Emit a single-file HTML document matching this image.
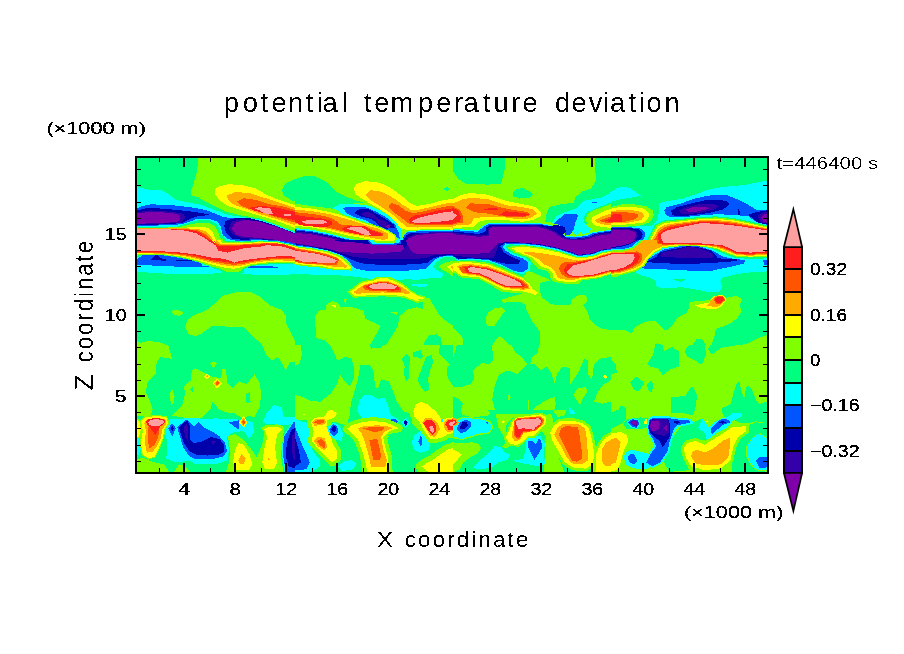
<!DOCTYPE html>
<html><head><meta charset="utf-8"><title>potential temperature deviation</title>
<style>
html,body{margin:0;padding:0;background:#fff;}
body{width:904px;height:654px;overflow:hidden;font-family:"Liberation Sans",sans-serif;}
svg{display:block;font-family:"Liberation Sans",sans-serif;}
.pk{fill:#ffa0a0}
.rd{fill:#ff1e1e}
.orr{fill:#ff5500}
.og{fill:#ffaa00}
.yl{fill:#ffff00}
.lm{fill:#7fff00}
.gr{fill:#00ff7f}
.cy{fill:#00ffff}
.bl{fill:#0055ff}
.db{fill:#0000aa}
.ind{fill:#3300aa}
.pu{fill:#7f00aa}
.tl{font-size:15.8px;fill:#000}
.thin text{fill:#000}

.big{fill:#000;}
</style></head><body>
<svg width="904" height="654" viewBox="0 0 904 654" shape-rendering="crispEdges">
<rect width="904" height="654" fill="#fff"/>
<defs>
<filter id="fb" x="-5%" y="-20%" width="110%" height="140%" color-interpolation-filters="sRGB"><feGaussianBlur stdDeviation="0.5"/><feComponentTransfer><feFuncA type="discrete" tableValues="0 0 0 0 0 1 1 1 1 1"/></feComponentTransfer></filter>
<filter id="fs" x="-5%" y="-20%" width="110%" height="140%" color-interpolation-filters="sRGB"><feComponentTransfer><feFuncA type="discrete" tableValues="0 0 0 1 1 1 1 1 1 1"/></feComponentTransfer></filter>
<filter id="ft" x="-5%" y="-30%" width="110%" height="160%" color-interpolation-filters="sRGB"><feGaussianBlur stdDeviation="0.4"/><feComponentTransfer><feFuncA type="discrete" tableValues="0 0 0 0 0 0 1 1 1 1"/></feComponentTransfer></filter>
<clipPath id="pc"><rect x="137" y="158" width="630" height="314"/></clipPath></defs>
<g clip-path="url(#pc)">
<rect x="137" y="158" width="630" height="314" class="gr"/>
<svg x="137" y="158" width="158" height="105" viewBox="0 0 904 601" preserveAspectRatio="none" overflow="hidden">
<rect width="904" height="601" class="gr"/>
<polygon class="lm" points="350,0 345,70 320,160 310,185 312,215 350,225 400,255 450,280 520,310 600,330 700,345 904,420 904,250 880,240 840,215 828,185 845,150 904,120 904,0"/>
<polygon class="cy" points="0,165 60,180 140,185 180,205 220,240 300,255 370,270 450,300 520,325 600,338 700,352 800,385 904,425 904,520 0,601"/>
<polygon class="bl" points="0,290 30,275 80,265 200,270 330,285 400,300 450,320 500,340 600,345 700,360 800,390 904,435 904,500 800,480 700,470 600,475 520,465 490,440 480,395 460,365 420,350 340,350 300,365 250,380 150,385 0,392"/>
<polygon class="db" points="0,300 60,285 150,290 250,300 340,310 420,325 340,335 300,350 260,370 200,378 0,385"/>
<polygon class="ind" points="0,310 80,300 200,308 270,320 275,345 250,370 150,375 0,380"/>
<polygon class="pu" points="0,315 100,308 200,315 240,325 245,350 230,368 100,372 0,378"/>
<polygon class="db" points="505,360 560,345 650,345 750,372 904,430 904,497 800,475 700,465 600,468 540,460 510,430 500,390"/>
<polygon class="ind" points="540,365 600,350 700,362 800,392 904,432 904,495 800,472 700,462 600,460 550,440 525,405"/>
<polygon class="pu" points="565,368 620,355 700,365 800,395 904,435 904,492 800,468 700,458 620,452 570,440 540,405"/>

<polygon class="yl" points="445,185 460,165 520,150 600,155 680,175 740,210 800,235 904,270 904,400 800,360 700,330 600,300 520,275 470,240 448,210"/>
<polygon class="og" points="515,215 560,195 640,200 720,225 800,250 904,285 904,385 800,350 700,320 620,290 550,265 520,240"/>
<polygon class="orr" points="570,250 610,230 680,240 760,265 850,280 904,300 904,370 800,340 700,305 640,290 600,275"/>
<polygon class="rd" points="640,285 700,275 780,280 850,295 904,310 904,355 800,335 720,315 670,300"/>
<polygon class="pk" points="670,290 700,282 760,287 780,320 740,322 700,300"/>
<polygon class="pk" points="840,322 880,322 885,332 840,330"/>
<polygon class="gr" points="230,392 300,370 350,355 420,358 455,375 475,410 485,445 510,470 600,482 0,482 0,398"/>
<polygon class="lm" points="240,397 300,382 350,370 415,372 445,390 462,420 475,455 505,478 600,488 0,488 0,400"/>
<polygon class="yl" points="260,400 320,395 380,392 415,405 435,430 450,465 475,488 0,488 0,402"/>
<polygon class="og" points="280,403 350,405 395,420 420,445 440,475 470,495 0,495 0,403"/>
<polygon class="orr" points="290,408 350,415 390,435 415,460 440,485 0,485 0,404"/>
<polygon class="rd" points="300,411 350,422 385,445 420,475 0,475 0,404"/>
<polygon class="pk" points="0,406 150,406 280,416 340,431 400,466 410,476 0,476"/>
</svg>

<svg x="137" y="240" width="158" height="105" viewBox="0 0 904 601" preserveAspectRatio="none" overflow="hidden">
<rect width="904" height="601" class="gr"/>
<polygon class="cy" points="0,183 100,188 220,197 350,195 490,190 610,192 680,200 830,200 904,196 904,50 0,50"/>
<polygon class="bl" points="0,108 30,88 150,88 250,103 300,114 365,120 372,150 455,152 455,156 372,154 220,152 0,142"/>
<polygon class="db" points="80,112 110,80 135,105 165,110 165,118 80,116"/>
<polygon class="db" points="225,112 345,114 345,119 225,118"/>
<polygon class="bl" points="635,150 800,152 805,158 635,158"/>
<polygon class="gr" points="0,100 30,88 150,88 250,103 300,114 360,130 420,155 485,178 490,190 610,190 615,165 650,150 700,143 800,137 904,140 904,50 0,50"/>
<polygon class="lm" points="0,90 30,84 150,85 250,99 300,110 350,125 420,148 490,170 520,185 580,185 610,160 650,146 700,138 800,131 904,135 904,50 0,50"/>
<polygon class="yl" points="0,82 150,82 250,94 300,105 350,118 420,138 500,158 550,165 600,155 650,140 700,132 800,124 904,128 904,50 0,50"/>
<polygon class="og" points="0,76 150,78 250,89 300,98 350,110 420,128 500,145 550,152 600,146 650,134 700,125 800,116 904,120 904,50 0,50"/>
<polygon class="orr" points="0,72 150,75 250,84 300,92 350,103 420,120 500,135 550,142 600,138 650,127 700,118 800,108 904,112 904,50 0,50"/>
<polygon class="rd" points="0,68 150,71 250,79 300,85 350,95 420,112 500,125 550,132 600,128 650,120 700,112 800,100 904,104 904,50 0,50"/>
<polygon class="yl" points="400,0 520,0 450,30"/>
<polygon class="bl" points="500,0 904,0 904,70 465,70 450,30"/>
<polygon class="pu" points="790,0 904,0 904,18"/>
<polygon class="cy" points="505,0 600,5 700,1 800,5 904,28 904,70 465,70 450,30"/>
<polygon class="gr" points="495,0 510,7 600,9 700,4 800,8 904,31 904,70 465,70 450,30"/>
<polygon class="lm" points="485,0 505,10 600,13 700,8 800,11 904,34 904,70 465,70 450,30"/>
<polygon class="yl" points="470,0 490,15 520,19 600,19 700,12 800,14 904,37 904,70 465,70 450,30"/>
<polygon class="og" points="455,0 475,20 500,25 600,24 700,17 800,18 904,41 904,70 465,70 450,30"/>
<polygon class="orr" points="440,0 465,25 490,30 560,28 700,21 740,17 830,21 904,44 904,70 465,70 450,30"/>
<polygon class="rd" points="400,0 425,0 455,28 480,36 560,33 700,26 740,20 830,25 904,48 904,70 465,70 450,30"/>
<polygon class="pk" points="0,0 400,0 450,30 465,62 520,72 560,60 620,45 700,40 740,30 820,35 870,48 904,60 904,95 820,92 740,100 650,110 600,118 585,120 560,130 500,108 420,100 350,85 250,72 150,65 0,62"/>
<polygon class="lm" points="195,405 230,400 260,410 262,425 240,435 210,428"/>
<polygon class="lm" points="275,500 290,455 330,430 400,400 450,360 490,320 560,300 650,298 700,320 760,375 830,400 850,430 855,480 904,580 904,601 720,601 660,550 610,500 430,492 370,535 340,548 300,545"/>
<polygon class="lm" points="0,575 20,590 60,578 130,585 170,601 0,601"/>
</svg>
<svg x="137" y="345" width="158" height="128" viewBox="0 0 807 654" preserveAspectRatio="none" overflow="hidden">
<rect width="807" height="656" class="gr"/>
<polygon class="lm" points="0,0 160,0 178,70 120,62 100,90 95,150 55,185 45,240 65,285 80,330 70,360 0,365"/>
<polygon class="lm" points="640,0 807,0 807,85 780,90 760,130 745,100 720,60 690,80 660,50"/>
<polygon class="lm" points="180,360 230,310 245,250 240,210 275,180 280,130 300,118 340,140 380,160 430,170 435,120 455,125 460,190 490,220 520,185 560,200 600,150 625,190 635,250 625,320 600,370 570,360 540,375 500,350 460,345 420,330 385,290 375,330 340,365 290,395 265,375 220,368"/>
<polygon class="lm" points="165,250 180,225 192,260 190,295 175,305"/>
<polygon class="gr" points="270,225 285,215 285,240"/>
<polygon class="gr" points="555,250 575,240 580,290 560,300"/>
<polygon class="lm" points="375,95 392,82 408,95 390,118"/>
<polygon class="yl" points="343,160 358,145 375,160 358,178"/>
<polygon class="og" points="352,160 358,153 366,160 358,168"/>
<polygon class="og" points="390,195 410,175 430,195 410,218" stroke="#ffff00" stroke-width="6" stroke-linejoin="round"/>
<polygon class="orr" points="400,195 410,185 420,195 410,207"/>
<polygon class="cy" points="140,440 165,380 300,372 340,380 400,375 500,380 560,385 590,395 600,440 580,470 540,440 480,450 460,470 470,540 460,590 400,610 300,610 270,590 200,600 150,580 155,500"/>
<polygon class="cy" points="640,400 660,350 700,305 740,320 750,370 807,368 807,400 760,410 700,405"/>
<polygon class="cy" points="0,470 15,480 25,520 10,560 0,560"/>
<polygon class="bl" points="0,610 10,615 12,640 0,640" stroke="#00ffff" stroke-width="8" stroke-linejoin="round"/>
<polygon class="bl" points="160,425 180,400 198,425 180,470"/>
<polygon class="db" points="172,425 180,412 188,425 180,440"/>
<polygon class="bl" points="205,420 255,380 275,400 290,415 315,395 340,420 380,440 420,465 450,500 460,540 440,570 380,585 300,585 265,565 235,520 220,470"/>
<polygon class="db" points="215,420 255,385 270,410 270,480 290,500 330,495 380,470 420,480 445,510 445,545 420,560 360,565 300,560 265,540 240,500 225,460"/>
<polygon class="ind" points="240,420 255,400 262,430 258,490 245,470"/>
<polygon class="ind" points="375,490 405,490 390,510"/>
<polygon class="bl" points="470,395 520,385 520,430 500,420"/>
<polygon class="cy" points="555,455 572,440 588,458 570,475"/>
<polygon class="og" points="525,395 545,365 560,395 545,418" stroke="#ffff00" stroke-width="6" stroke-linejoin="round"/>
<polygon class="orr" points="535,395 545,380 553,395 545,408"/>
<polygon class="lm" points="0,585 30,575 60,590 90,600 140,610 165,648 0,648"/>
<polygon class="lm" points="190,648 215,610 240,615 275,648"/>
<polygon class="lm" points="455,648 470,600 475,540 465,465 500,455 545,485 585,535 612,572 640,505 650,445 632,420 660,410 720,405 752,420 745,480 735,560 748,648"/>
<polygon class="yl" points="490,600 500,540 520,500 545,510 575,560 590,610 570,640 510,640"/>
<polygon class="og" points="518,590 535,555 555,580 545,610 525,608"/>
<polygon class="yl" points="640,600 650,530 665,470 650,430 670,418 720,418 740,430 715,460 705,520 715,600 700,635 655,635"/>
<polygon class="og" points="668,585 675,575 680,590"/>
<polygon class="bl" points="750,470 775,430 800,395 830,395 830,670 760,670 745,560" stroke="#00ffff" stroke-width="10" stroke-linejoin="round"/>
<polygon class="bl" points="750,470 775,430 800,395 807,395 807,648 760,648 745,560"/>
<polygon class="db" points="765,500 785,440 807,420 807,630 775,620 760,570"/>
<polygon class="ind" points="790,470 807,440 807,590 795,570"/>
<polygon class="yl" points="-20,375 15,385 25,430 15,470 -20,480" stroke="#7fff00" stroke-width="8" stroke-linejoin="round"/>
<polygon class="yl" points="20,390 40,370 100,362 150,370 160,400 140,430 130,480 110,530 90,570 60,580 30,560 20,500 30,440" stroke="#7fff00" stroke-width="12" stroke-linejoin="round"/>
<polygon class="yl" points="20,390 40,370 100,362 150,370 160,400 140,430 130,480 110,530 90,570 60,580 30,560 20,500 30,440"/>
<polygon class="og" points="38,400 50,380 100,372 145,380 150,400 130,430 120,480 100,520 80,545 50,550 40,500 45,440"/>
<polygon class="orr" points="55,420 100,420 115,440 105,480 90,510 65,530 55,490"/>
<polygon class="rd" points="45,395 60,378 100,372 140,380 145,398 120,415 105,440 95,460 80,440 60,415"/>
<polygon class="pk" points="55,395 70,382 100,378 135,385 140,396 115,412 80,415 65,408"/>
</svg>

<svg x="295" y="158" width="158" height="105" viewBox="0 0 904 601" preserveAspectRatio="none" overflow="hidden">
<rect width="904" height="603" class="lm"/>
<polygon class="gr" points="0,120 50,105 110,105 160,125 200,155 240,195 300,225 340,240 390,255 240,270 215,290 100,275 0,262"/>
<polygon class="gr" points="850,178 870,165 888,178 870,190"/>
<polygon class="cy" points="0,400 100,412 200,432 300,458 400,480 500,495 580,495 610,480 620,440 640,420 700,415 800,410 904,412 904,480 0,480"/>
<polygon class="bl" points="0,408 100,420 200,440 300,465 400,485 500,498 590,495 615,470 625,440 645,425 700,420 800,415 904,417 904,480 0,480"/>
<polygon class="db" points="0,414 100,426 200,446 300,470 400,490 500,502 600,500 625,460 640,440 660,430 904,422 904,480 0,480"/>
<polygon class="pu" points="-20,422 100,434 200,454 260,471 260,490 -20,490" stroke="#3300aa" stroke-width="8" stroke-linejoin="round"/>
<polygon class="pu" points="640,490 645,457 700,437 800,428 924,428 924,490" stroke="#3300aa" stroke-width="8" stroke-linejoin="round"/>
<polygon class="cy" points="220,285 260,262 340,262 420,272 490,300 550,340 600,385 615,430 610,470 590,490 570,450 480,410 400,365 330,345 270,320"/>
<polygon class="bl" points="275,290 300,278 400,280 470,310 530,345 575,385 595,430 600,465 560,440 480,400 400,355 330,335 295,315"/>
<polygon class="db" points="340,315 360,295 420,292 460,315 520,350 565,380 570,400 520,405 480,385 440,350 380,335"/>
<polygon class="ind" points="375,318 410,308 450,320 470,345 510,360 550,385 540,402 500,395 460,350 400,335"/>
<polygon class="pu" points="515,395 530,380 545,392 535,400"/>
<polygon class="yl" points="-20,280 100,290 200,310 260,325 330,350 400,375 470,395 530,420 570,445 575,465 540,478 480,475 400,462 300,443 200,418 100,398 -20,388" stroke="#7fff00" stroke-width="14" stroke-linejoin="round"/>
<polygon class="yl" points="0,280 100,290 200,310 260,325 330,350 400,375 470,395 530,420 570,445 575,465 540,478 480,475 400,462 300,443 200,418 100,398 0,388"/>
<polygon class="og" points="0,295 100,305 200,322 280,345 350,365 420,390 480,405 530,430 535,465 500,468 400,450 300,432 200,408 100,392 0,378"/>
<polygon class="orr" points="0,310 100,320 180,335 220,350 260,380 300,385 400,390 440,410 500,430 505,445 440,445 380,440 300,425 200,400 100,388 0,370"/>
<polygon class="rd" points="0,325 60,335 150,345 210,360 215,380 180,395 100,392 30,385 0,365"/>
<polygon class="pk" points="35,362 80,355 170,358 185,368 160,378 60,377"/>
<polygon class="rd" points="265,405 300,390 400,392 440,415 500,435 490,445 440,445 380,440 300,425"/>
<polygon class="pk" points="290,405 320,396 390,398 420,420 435,438 400,440 350,420"/>
<polygon class="yl" points="335,175 350,150 400,133 470,138 530,160 580,195 620,225 660,260 700,275 780,260 850,240 904,235 904,410 800,405 700,410 640,412 600,400 580,370 540,330 480,290 420,255 370,225 345,205"/>
<polygon class="og" points="405,210 430,185 480,188 530,210 580,240 620,270 660,295 700,298 780,280 850,262 904,255 904,398 800,395 700,398 640,395 610,370 580,340 540,310 480,270 430,240"/>
<polygon class="orr" points="535,280 550,258 590,270 630,300 670,315 720,310 800,290 860,278 904,275 904,385 800,385 700,385 650,375 620,350 570,315"/>
<polygon class="rd" points="650,350 680,330 740,320 820,300 904,288 904,378 800,375 700,378 660,370"/>
<polygon class="pk" points="665,365 700,345 780,325 860,310 904,305 904,355 820,365 740,372 690,372"/>
</svg>

<svg x="295" y="240" width="158" height="105" viewBox="0 0 904 601" preserveAspectRatio="none" overflow="hidden">
<rect width="904" height="603" class="gr"/>
<polygon class="cy" points="0,0 904,0 904,95 850,100 810,125 790,155 820,178 850,195 840,215 800,215 700,228 650,225 580,228 540,210 470,210 440,225 380,215 300,205 200,200 100,198 0,195"/>
<polygon class="bl" points="0,0 904,0 904,90 840,95 800,110 770,140 745,165 700,170 600,180 500,180 400,175 350,165 330,150 300,120 260,100 200,75 150,65 0,30"/>
<polygon class="db" points="0,0 904,0 904,85 830,92 790,105 760,130 700,138 600,142 500,142 400,138 350,125 300,100 250,80 200,62 100,40 0,25"/>
<polygon class="ind" points="0,0 904,0 904,80 800,85 740,105 640,108 500,110 400,105 330,95 280,80 200,55 100,38 0,22"/>
<polygon class="db" points="215,0 635,0 645,30 625,50 615,30 560,25 430,25 350,15 250,8"/>
<polygon class="pu" points="0,18 100,35 200,52 260,70 340,72 440,78 520,72 600,70 625,50 615,30 560,25 430,25 350,15 250,8 215,0 0,0"/>
<polygon class="pu" points="635,0 904,0 904,78 800,80 700,80 670,70 645,30"/>
<polygon class="cy" points="400,-20 610,-20 600,20 560,25 440,25" stroke="#0055ff" stroke-width="8" stroke-linejoin="round"/>
<polygon class="yl" points="440,-20 580,-20 570,12 460,12" stroke="#7fff00" stroke-width="8" stroke-linejoin="round"/>
<polygon class="lm" points="-20,35 100,48 190,65 260,90 300,120 328,155 318,175 230,172 150,158 50,150 -20,142" stroke="#00ffff" stroke-width="10" stroke-linejoin="round"/>
<polygon class="lm" points="0,35 100,48 190,65 260,90 300,120 328,155 318,175 230,172 150,158 50,150 0,142"/>
<polygon class="yl" points="0,40 100,55 180,70 250,95 290,125 320,155 310,168 230,165 150,150 50,142 0,135"/>
<polygon class="og" points="0,45 100,62 180,78 240,100 270,125 300,150 290,158 230,155 150,142 50,136 0,125"/>
<polygon class="rd" points="-20,50 60,62 140,75 210,95 250,112 235,138 150,136 50,130 -20,118" stroke="#ff5500" stroke-width="8" stroke-linejoin="round"/>
<polygon class="pk" points="0,60 50,68 130,80 200,100 240,115 225,132 150,130 50,125 0,112"/>
<polygon class="lm" points="300,295 330,275 370,240 440,225 470,210 540,210 580,230 620,250 660,285 700,310 750,325 760,345 700,360 660,345 620,330 500,322 400,328 330,330"/>
<polygon class="yl" points="315,295 340,280 380,245 450,232 480,220 530,220 580,240 620,262 660,295 700,318 750,335 750,350 700,352 660,335 620,320 500,312 400,318 335,318"/>
<polygon class="og" points="335,298 360,280 390,258 450,242 490,232 530,235 590,258 630,280 660,300 650,308 600,305 500,300 400,305 350,308"/>
<polygon class="orr" points="385,270 400,258 450,248 490,238 530,240 580,258 605,275 605,300 560,298 500,292 430,290 400,285"/>
<polygon class="rd" points="400,270 420,258 490,242 540,250 590,265 598,285 560,290 500,285 430,283"/>
<polygon class="pk" points="418,268 440,255 500,245 550,252 585,268 570,280 500,278 440,278"/>
<polygon class="cy" points="665,250 750,252 765,262 720,270 670,262"/>
<polygon class="lm" points="115,440 135,405 175,398 180,370 215,350 245,360 260,382 330,385 395,405 400,450 490,490 470,530 430,601 200,601 170,575 120,560"/>
<polygon class="yl" points="200,372 235,375 232,388"/>
<polygon class="lm" points="280,335 295,340 290,365 280,350"/>
<polygon class="lm" points="520,601 560,540 590,490 595,440 640,400 700,385 730,395 735,360 700,340 770,330 790,370 820,420 860,460 904,490 904,601 840,601 835,560 810,540 770,545 745,575 735,601"/>
<polygon class="lm" points="545,412 590,412 580,428"/>
<polygon class="lm" points="820,155 850,130 904,120 904,210 870,185"/>
<polygon class="yl" points="870,150 904,135 904,185"/>
<polygon class="og" points="890,150 904,145 904,170"/>
</svg>

<svg x="295" y="345" width="158" height="128" viewBox="0 0 807 654" preserveAspectRatio="none" overflow="hidden">
<rect width="807" height="656" class="lm"/>
<polygon class="gr" points="30,0 180,0 200,40 215,80 260,60 290,70 300,110 300,170 280,210 250,180 230,150 215,200 180,250 130,290 80,285 40,265 0,255 0,110 25,90 35,50"/>
<polygon class="gr" points="380,0 450,0 440,15 390,18"/>
<polygon class="gr" points="545,70 570,45 590,70 580,130 585,170 570,185 555,150 560,110"/>
<polygon class="gr" points="600,40 640,25 655,60 640,70 620,60 605,60"/>
<polygon class="gr" points="625,180 640,140 655,100 670,60 700,50 705,90 690,130 680,170 685,230 665,240 640,210"/>
<polygon class="gr" points="740,0 807,0 807,210 780,170 775,120 790,100 760,70 735,40"/>
<polygon class="lm" points="718,130 728,120 735,135 725,145"/>
<polygon class="gr" points="335,100 380,100 400,130 410,215 425,222 440,175 480,185 498,230 520,290 555,340 600,355 595,400 640,440 680,495 720,490 760,455 807,470 807,525 760,530 700,565 650,610 640,648 0,648 0,385 100,385 180,385 230,400 262,415 280,360 285,300 300,250 320,180"/>
<polygon class="cy" points="0,378 40,392 70,400 80,440 70,480 90,540 130,590 130,620 80,648 0,648"/>
<polygon class="bl" points="0,420 20,470 40,520 60,560 75,600 60,635 0,640"/>
<polygon class="db" points="0,470 20,540 30,600 0,620"/>
<polygon class="yl" points="20,355 45,345 70,358 40,365" stroke="#7fff00" stroke-width="14" stroke-linejoin="round"/>
<polygon class="yl" points="80,390 100,372 150,365 165,340 185,330 215,350 200,370 165,385 160,420 180,450 190,500 215,540 215,580 190,600 150,560 110,520 85,490 95,440" stroke="#7fff00" stroke-width="40" stroke-linejoin="round"/>
<polygon class="yl" points="80,390 100,372 150,365 165,340 185,330 215,350 200,370 165,385 160,420 180,450 190,500 215,540 215,580 190,600 150,560 110,520 85,490 95,440"/>
<polygon class="og" points="85,395 105,378 150,378 160,395 140,410 100,412"/>
<polygon class="og" points="95,490 115,468 150,475 165,520 150,540 120,520"/>
<polygon class="orr" points="95,395 115,385 150,385 150,395 120,405"/>
<polygon class="orr" points="112,490 135,480 155,500 150,530 125,510"/>
<polygon class="cy" points="165,420 195,395 225,410 245,450 240,490 200,480 175,460"/>
<polygon class="bl" points="175,430 195,405 215,415 222,445 200,465 180,450"/>
<polygon class="db" points="185,430 200,410 212,425 205,445 190,440"/>
<polygon class="cy" points="220,620 250,595 290,588 312,605 300,635 240,645"/>
<polygon class="cy" points="318,340 330,280 350,258 390,255 420,275 460,270 475,310 490,360 520,375 540,390 500,395 420,385 340,370"/>
<polygon class="bl" points="465,395 480,382 510,378 528,392 510,400"/>
<polygon class="bl" points="548,398 565,375 582,398 565,420" stroke="#00ffff" stroke-width="8" stroke-linejoin="round"/>
<polygon class="db" points="554,398 565,382 576,398 565,414"/>
<polygon class="yl" points="265,428 290,410 340,395 400,388 460,395 500,410 530,425 480,440 450,470 460,520 475,570 480,680 370,680 350,560 320,480 290,450" stroke="#7fff00" stroke-width="40" stroke-linejoin="round"/>
<polygon class="yl" points="265,428 290,410 340,395 400,388 460,395 500,410 530,425 480,440 450,470 460,520 475,570 480,648 370,648 350,560 320,480 290,450"/>
<polygon class="og" points="320,425 350,415 420,410 470,415 500,425 460,440 440,470 450,530 470,590 460,625 390,625 375,560 355,490 340,450"/>
<polygon class="orr" points="345,425 400,418 460,422 440,440 400,445"/>
<polygon class="orr" points="380,485 420,480 430,520 440,570 430,590 400,585 390,540"/>
<polygon class="gr" points="470,460 500,450 540,455 520,475 490,472"/>
<polygon class="yl" points="605,340 615,305 645,290 680,305 720,340 750,380 775,375 840,370 840,450 780,455 760,470 720,480 690,480 660,440 640,400 610,365" stroke="#7fff00" stroke-width="40" stroke-linejoin="round"/>
<polygon class="yl" points="605,340 615,305 645,290 680,305 720,340 750,380 775,375 807,370 807,450 780,455 760,470 720,480 690,480 660,440 640,400 610,365"/>
<polygon class="og" points="650,395 665,375 700,375 730,400 740,430 715,470 690,465 670,430"/>
<polygon class="rd" points="655,400 670,385 700,385 720,410 722,440 705,460 685,445 668,420"/>
<polygon class="pk" points="685,420 700,410 712,430 705,450 692,440"/>
<polygon class="og" points="760,400 775,380 807,375 807,440 780,445 765,430"/>
<polygon class="rd" points="768,405 780,385 807,380 807,435 785,435"/>
<polygon class="pk" points="785,400 807,390 807,415 790,412"/>
<polygon class="cy" points="745,385 752,375 758,390 750,400"/>
<polygon class="cy" points="595,500 610,460 640,440 665,470 690,510 680,540 640,550 610,535"/>
<polygon class="bl" points="630,495 645,455 650,510 640,515"/>
<polygon class="yl" points="645,620 700,590 740,560 780,535 850,510 850,700 700,700" stroke="#7fff00" stroke-width="56" stroke-linejoin="round"/>
<polygon class="yl" points="645,620 700,590 740,560 780,535 807,525 807,648 680,648"/>
</svg>

<svg x="453" y="158" width="158" height="105" viewBox="0 0 904 601" preserveAspectRatio="none" overflow="hidden">
<rect width="904" height="603" class="lm"/>
<polygon class="gr" points="0,0 295,0 295,70 275,148 200,152 80,150 30,120 0,75"/>
<polygon class="gr" points="340,200 360,178 400,172 440,190 458,212 430,230 380,232 345,218"/>
<polygon class="gr" points="810,0 818,130 790,175 740,190 700,225 690,255 620,265 550,280 535,320 528,365 600,375 904,375 904,0"/>
<polygon class="cy" points="904,195 860,225 800,235 750,245 700,290 640,310 590,335 565,370 640,380 700,440 780,430 790,405 755,380 745,345 765,310 800,295 850,275 904,255"/>
<polygon class="bl" points="610,345 640,320 700,318 715,330 700,370 690,410 670,440 640,445 635,400 600,380 580,375"/>
<polygon class="bl" points="795,250 825,250 825,256 795,256"/>
<polygon class="lm" points="755,360 770,320 800,300 860,280 904,262 904,410 850,405 790,395"/>
<polygon class="yl" points="790,360 800,335 840,315 904,290 904,400 850,395 810,385"/>
<polygon class="og" points="810,360 830,345 870,328 904,318 904,385 860,380 830,372"/>
<polygon class="orr" points="835,360 870,345 904,335 904,375 870,370"/>
<polygon class="rd" points="870,358 904,345 904,368"/>
<polygon class="cy" points="0,405 140,415 175,385 200,372 500,374 560,385 620,420 640,445 700,450 770,440 800,425 904,410 904,480 0,480"/>
<polygon class="bl" points="0,412 140,422 180,392 205,378 500,378 560,390 615,425 640,450 700,455 770,445 800,430 904,415 904,480 0,480"/>
<polygon class="db" points="0,420 150,435 185,420 190,398 210,385 500,385 540,388 600,385 640,395 645,420 630,440 650,460 700,462 780,452 810,435 904,420 904,480 0,480"/>
<polygon class="pu" points="-20,430 150,447 200,442 207,402 227,392 480,390 530,402 580,422 620,452 680,470 760,462 820,442 924,428 924,530 -20,548" stroke="#3300aa" stroke-width="8" stroke-linejoin="round"/>
<polygon class="lm" points="712,440 728,425 745,440"/>
<polygon class="yl" points="0,235 50,210 100,200 200,210 300,245 400,265 470,280 505,310 500,335 460,355 400,365 300,355 200,352 150,365 120,395 0,400"/>
<polygon class="og" points="0,260 60,235 100,228 200,235 300,270 400,282 460,295 480,320 440,345 380,352 300,340 200,335 120,345 100,380 0,388"/>
<polygon class="orr" points="70,285 100,260 200,262 260,280 330,295 430,310 445,325 400,340 300,335 250,328 200,318 120,310"/>
<polygon class="orr" points="0,275 40,300 60,340 55,370 0,378"/>
<polygon class="rd" points="160,290 250,288 265,300 200,300"/>
<polygon class="rd" points="265,325 300,305 400,315 440,322 400,335 300,332"/>
<polygon class="rd" points="0,285 30,300 45,340 40,365 0,372"/>
<polygon class="pk" points="0,310 22,330 0,350"/>
</svg>

<svg x="453" y="240" width="158" height="105" viewBox="0 0 904 601" preserveAspectRatio="none" overflow="hidden">
<rect width="904" height="603" class="gr"/>
<polygon class="cy" points="0,0 904,0 904,60 850,70 800,90 720,100 680,85 600,60 500,40 400,28 320,25 300,40 320,65 360,85 410,100 445,130 440,170 400,195 350,185 280,150 200,120 100,112 30,118 0,100"/>
<polygon class="bl" points="0,0 904,0 904,55 850,62 800,82 720,92 680,78 600,52 500,32 400,22 300,20 285,40 300,60 340,85 400,105 432,130 428,165 400,185 350,178 285,145 200,114 100,108 30,112 0,95"/>
<polygon class="db" points="0,0 904,0 904,52 850,58 800,78 720,88 680,74 600,48 500,28 400,18 300,15 270,35 290,70 340,100 385,118 375,140 300,135 250,125 200,110 100,105 30,108 0,92"/>
<polygon class="ind" points="0,0 904,0 904,50 850,55 800,75 720,85 680,70 600,45 500,25 400,15 300,12 262,25 245,75 235,100 200,105 100,100 0,88"/>
<polygon class="pu" points="0,0 904,0 904,50 850,55 800,75 720,85 680,70 600,45 500,25 400,15 300,12 260,20 235,40 200,75 100,80 0,78"/>
<polygon class="lm" points="430,175 560,230 500,245 495,290 510,330 560,365 600,375 670,372 680,340 720,315 760,312 770,345 745,375 770,410 780,450 820,490 860,510 904,515 904,601 500,601 495,520 450,460 420,400 415,370 380,355 320,355 285,362 280,340 330,325 400,305 440,315 480,320 490,295 465,275 440,240 400,210"/>
<polygon class="lm" points="185,450 200,415 240,390 280,385 298,405 280,430 255,465 235,495 195,495"/>
<polygon class="lm" points="0,500 30,530 60,565 60,601 0,601"/>
<polygon class="lm" points="225,601 245,570 265,550 290,565 325,601"/>
<polygon class="lm" points="0,125 30,118 100,120 200,130 280,160 350,190 400,210 440,240 465,275 490,295 480,320 440,315 400,305 280,298 250,280 200,250 150,225 50,215 0,185"/>
<polygon class="yl" points="0,135 40,128 100,128 200,140 280,170 350,200 400,220 435,250 455,280 485,300 470,315 440,305 400,295 290,285 250,265 200,240 150,215 50,205 0,170"/>
<polygon class="og" points="20,150 50,140 100,138 200,150 280,180 350,208 400,228 430,255 440,280 400,285 300,275 250,255 200,230 150,205 60,195"/>
<polygon class="orr" points="35,155 60,150 100,145 200,158 280,188 350,215 395,232 425,258 430,275 400,278 300,270 250,250 200,222 150,200 70,190 50,185"/>
<polygon class="rd" points="65,155 100,150 200,163 280,192 350,220 390,237 415,262 400,272 300,268 250,245 200,218 150,196 75,188"/>
<polygon class="pk" points="85,160 110,155 200,170 280,198 350,225 385,245 395,265 300,262 250,240 200,212 150,190 95,185"/>
<polygon class="lm" points="310,45 340,35 400,30 500,42 600,62 680,88 720,100 800,92 850,72 904,62 904,195 850,215 800,225 740,230 720,250 650,252 600,245 560,230 555,200 530,175 490,165 450,130 440,105 400,90 350,72"/>
<polygon class="yl" points="335,45 400,38 500,50 600,70 680,95 720,106 800,97 850,78 904,66 904,190 850,208 800,218 740,222 700,238 650,240 600,232 575,215 570,190 545,165 500,150 470,120 450,100 400,80 360,65"/>
<polygon class="og" points="400,72 440,68 500,75 600,92 680,112 720,118 800,105 850,85 904,72 904,185 850,200 800,212 740,216 700,226 650,228 600,218 585,185 560,155 520,140 490,110 450,90"/>
<polygon class="orr" points="605,160 625,130 680,125 720,122 800,108 850,90 904,76 904,180 850,196 800,208 740,212 700,218 650,215 620,195"/>
<polygon class="rd" points="635,170 655,140 700,132 800,112 850,94 904,80 904,176 850,192 800,204 740,208 700,212 660,205 640,190"/>
<polygon class="pk" points="650,180 690,145 750,130 830,105 904,84 904,172 850,186 800,200 740,204 700,208 665,198"/>
</svg>

<svg x="453" y="345" width="158" height="128" viewBox="0 0 807 654" preserveAspectRatio="none" overflow="hidden">
<rect width="807" height="656" class="gr"/>
<polygon class="lm" points="200,0 300,0 320,40 350,60 380,100 330,150 280,130 235,150 210,220 200,280 215,330 190,350 180,340 150,365 50,365 40,330 50,300 20,270 0,265 0,215 40,215 90,200 110,170 100,130 150,90 180,100 205,80"/>
<polygon class="lm" points="0,0 20,0 0,70"/>
<polygon class="lm" points="440,0 807,0 807,60 750,70 720,100 710,180 690,150 690,80 670,70 640,140 600,200 600,120 560,110 530,150 520,200 500,140 480,110 450,130 420,100 395,95 400,70 430,40"/>
<polygon class="lm" points="400,340 430,310 480,280 520,265 525,300 515,340 500,365 440,360"/>
<polygon class="lm" points="720,290 740,240 770,200 807,180 807,290 760,300"/>
<polygon class="lm" points="615,250 640,220 680,215 685,240 665,270 650,305 625,275"/>
<polygon class="lm" points="278,265 288,250 295,270 285,285"/>
<polygon class="lm" points="382,285 388,280 390,330 384,335"/>
<polygon class="yl" points="765,162 778,150 790,162 778,175"/>
<polygon class="cy" points="585,350 595,315 610,340 630,355"/>
</svg>

<svg x="453" y="410" width="158" height="63" viewBox="0 0 904 360" preserveAspectRatio="none" overflow="hidden">
<rect width="904" height="362" class="gr"/>
<polygon class="lm" points="45,0 200,0 215,15 200,35 100,40 50,25"/>
<polygon class="lm" points="0,185 40,190 110,185 150,195 160,220 140,250 100,270 60,300 40,340 0,355"/>
<polygon class="yl" points="0,225 30,240 50,255 20,290 0,310"/>
<polygon class="lm" points="520,30 560,20 575,60 560,100 550,140 570,200 600,260 620,310 640,360 520,360 525,250 530,150 500,110 530,80"/>
<polygon class="lm" points="245,25 330,20 420,25 345,40 300,90 310,150 340,190 310,220 280,210 300,190 290,150 260,100"/>
<polygon class="lm" points="570,0 650,0 640,30 600,40"/>
<polygon class="cy" points="660,0 690,0 700,20 670,25"/>
<polygon class="cy" points="-20,100 20,60 60,45 120,50 175,55 210,70 225,100 200,130 150,135 100,150 50,165 -20,150" stroke="#7fff00" stroke-width="14" stroke-linejoin="round"/>
<polygon class="cy" points="0,100 20,60 60,45 120,50 175,55 210,70 225,100 200,130 150,135 100,150 50,165 0,150"/>
<polygon class="bl" points="22,110 35,75 70,55 100,65 105,95 80,120 45,135"/>
<polygon class="db" points="35,105 55,70 80,68 85,90 65,110"/>
<polygon class="bl" points="188,68 200,68 198,78"/>
<polygon class="rd" points="-20,50 15,55 25,70 10,85 -20,92" stroke="#ffaa00" stroke-width="14" stroke-linejoin="round"/>
<polygon class="pk" points="-20,55 12,60 18,70 8,82 -20,86" stroke="#ff1e1e" stroke-width="6" stroke-linejoin="round"/>
<polygon class="yl" points="270,68 288,50 305,68 288,85" stroke="#7fff00" stroke-width="10" stroke-linejoin="round"/>
<polygon class="cy" points="115,330 150,290 200,250 240,205 275,215 300,245 330,255 310,285 260,300 220,330 150,340"/>
<polygon class="cy" points="340,290 400,280 415,230 420,170 460,145 500,150 525,190 520,260 530,310 480,320 400,305"/>
<polygon class="bl" points="430,180 455,178 475,195 490,165 505,175 510,215 490,250 465,285 445,245 430,210"/>
<polygon class="yl" points="300,160 320,120 340,70 360,45 420,35 500,25 530,40 535,70 510,100 480,130 460,150 430,150 400,180 370,200 330,195" stroke="#7fff00" stroke-width="20" stroke-linejoin="round"/>
<polygon class="yl" points="300,160 320,120 340,70 360,45 420,35 500,25 530,40 535,70 510,100 480,130 460,150 430,150 400,180 370,200 330,195"/>
<polygon class="og" points="335,150 345,100 350,60 380,45 500,35 520,50 520,75 500,95 470,120 440,125 400,135 385,170 355,180"/>
<polygon class="rd" points="350,140 352,70 370,50 500,42 515,60 500,90 470,115 440,120 400,125 380,160 365,160" stroke="#ff5500" stroke-width="6" stroke-linejoin="round"/>
<polygon class="pk" points="360,80 365,58 400,52 490,48 508,62 495,85 470,100 465,115 440,108 400,105 375,110"/>
<polygon class="yl" points="555,130 575,90 610,65 680,60 740,75 775,100 790,150 800,200 810,260 800,310 760,335 690,330 640,300 600,230 570,180" stroke="#7fff00" stroke-width="30" stroke-linejoin="round"/>
<polygon class="yl" points="555,130 575,90 610,65 680,60 740,75 775,100 790,150 800,200 810,260 800,310 760,335 690,330 640,300 600,230 570,180"/>
<polygon class="og" points="580,140 600,100 630,78 720,82 755,105 765,160 770,230 770,290 740,310 680,305 650,270 620,210 595,170"/>
<polygon class="orr" points="605,140 620,105 650,90 715,100 725,150 735,220 740,280 710,295 680,290 655,240 630,190"/>
<polygon class="yl" points="815,390 820,250 840,200 870,160 930,130 930,390" stroke="#7fff00" stroke-width="30" stroke-linejoin="round"/>
<polygon class="yl" points="815,360 820,250 840,200 870,160 904,140 904,360"/>
<polygon class="og" points="850,290 855,220 875,185 904,170 904,320 870,320"/>
</svg>

<svg x="611" y="158" width="158" height="105" viewBox="0 0 904 601" preserveAspectRatio="none" overflow="hidden">
<rect width="904" height="603" class="gr"/>
<polygon class="cy" points="0,195 30,175 70,165 110,172 140,195 170,215 130,225 60,235 0,250"/>
<polygon class="cy" points="275,265 300,250 400,235 480,210 560,180 650,165 760,155 860,135 904,130 904,400 800,380 700,360 600,350 500,355 400,365 330,368 280,375 250,400 225,440 200,480 150,500 0,520 0,395 150,392 200,392 240,385 270,350"/>
<polygon class="bl" points="305,300 320,280 400,260 480,232 560,215 660,212 720,235 780,265 830,295 904,300 904,385 820,360 790,335 700,325 600,322 500,330 400,340 330,335 310,320"/>
<polygon class="db" points="345,300 380,280 450,262 540,242 620,238 670,250 675,270 640,295 560,315 480,325 400,335 350,328"/>
<polygon class="ind" points="390,300 420,285 500,265 580,262 620,275 590,295 520,312 440,322 400,318"/>
<polygon class="pu" points="430,295 470,282 540,280 560,290 520,300 470,312 440,308"/>
<polygon class="db" points="785,325 830,310 892,300 892,380 840,370 810,345"/>
<polygon class="ind" points="840,330 870,312 892,308 892,375 860,370 845,350"/>
<polygon class="pu" points="860,340 880,320 892,318 892,370 870,365"/>
<polygon class="db" points="725,292 732,290 740,325 728,325"/>
<polygon class="bl" points="0,398 100,395 175,405 195,430 190,460 160,490 100,510 0,522"/>
<polygon class="db" points="0,402 100,400 165,410 182,435 175,460 150,485 100,503 0,516"/>
<polygon class="pu" points="-20,410 90,408 140,420 150,445 130,475 80,495 -20,508" stroke="#3300aa" stroke-width="8" stroke-linejoin="round"/>
<polygon class="lm" points="0,280 60,265 130,265 200,275 240,300 245,330 225,365 180,385 100,392 0,395"/>
<polygon class="yl" points="0,290 60,278 130,280 190,290 215,315 215,340 190,368 100,380 0,385"/>
<polygon class="og" points="0,305 60,295 130,300 175,310 190,330 175,355 100,370 0,375"/>
<polygon class="orr" points="0,312 60,308 130,315 160,325 140,350 80,365 0,370"/>
<polygon class="rd" points="0,325 40,320 65,325 65,365 0,368"/>
<polygon class="gr" points="165,520 205,470 230,420 250,380 300,358 400,348 500,338 600,334 700,343 800,363 892,386 904,520"/>
<polygon class="lm" points="175,520 215,470 240,420 260,385 300,365 400,355 500,345 600,340 700,350 800,370 892,392 904,520"/>
<polygon class="yl" points="185,520 225,470 250,420 270,390 310,372 400,362 500,352 600,348 700,357 800,377 892,397 904,520"/>
<polygon class="og" points="200,515 240,460 262,420 280,398 320,380 400,370 500,358 600,355 700,364 800,384 892,402 904,520"/>
<polygon class="orr" points="225,505 255,455 270,425 300,400 340,385 400,377 500,363 600,362 700,371 800,390 892,406 904,520"/>
<polygon class="rd" points="270,490 268,440 300,412 340,395 400,386 500,368 600,368 700,378 800,395 892,409 904,520"/>
<polygon class="pk" points="285,455 285,435 320,415 400,395 520,372 620,378 720,388 800,400 860,410 892,412 904,520 295,480"/>
</svg>

<svg x="611" y="240" width="158" height="105" viewBox="0 0 904 601" preserveAspectRatio="none" overflow="hidden">
<rect width="904" height="603" class="gr"/>
<polygon class="cy" points="140,180 200,150 240,80 300,40 400,25 520,25 600,60 700,100 800,110 892,105 892,180 800,185 720,195 640,215 625,235 635,270 620,295 560,300 500,285 400,270 300,278 260,265 255,235 220,215 150,195"/>
<polygon class="gr" points="350,225 430,225 400,240"/>
<polygon class="bl" points="170,155 205,115 250,85 300,55 400,35 500,35 580,60 640,95 700,108 770,115 760,135 700,150 580,175 440,175 300,168 200,168"/>
<polygon class="bl" points="870,115 892,112 892,145 875,140"/>
<polygon class="db" points="205,125 260,95 280,70 340,55 400,45 440,35 500,42 570,60 600,85 610,105 720,110 725,120 600,130 500,135 350,135 240,130"/>
<polygon class="ind" points="280,90 300,70 380,55 440,38 500,45 560,65 590,90 585,100 500,102 350,100 290,98"/>
<polygon class="lm" points="0,0 892,0 892,95 800,100 720,97 660,75 600,50 520,38 450,33 400,35 300,45 250,75 215,110 190,150 140,180 60,200 30,212 0,212"/>
<polygon class="yl" points="0,0 892,0 892,90 800,95 720,92 660,70 600,45 520,33 450,28 400,30 300,40 245,70 210,105 185,145 135,172 60,192 0,200"/>
<polygon class="og" points="0,0 892,0 892,84 800,90 720,86 660,62 600,40 520,29 400,27 300,33 240,60 200,100 175,140 125,166 60,186 0,194"/>
<polygon class="orr" points="0,72 100,70 150,65 175,80 178,105 165,132 120,160 60,180 0,188"/>
<polygon class="orr" points="262,0 892,0 892,78 800,85 720,81 650,50 600,35 520,27 400,25 300,27 268,22"/>
<polygon class="yl" points="-20,70 60,70 130,58 195,0 205,-20 -20,-20" stroke="#ffaa00" stroke-width="10" stroke-linejoin="round"/>
<polygon class="gr" points="-20,62 60,63 125,50 182,0 190,-20 -20,-20" stroke="#7fff00" stroke-width="8" stroke-linejoin="round"/>
<polygon class="cy" points="0,57 60,58 120,45 172,0 0,0"/>
<polygon class="bl" points="0,53 60,53 115,40 163,0 0,0"/>
<polygon class="pu" points="-20,-20 160,-20 150,0 100,25 50,38 -20,45" stroke="#0000aa" stroke-width="6" stroke-linejoin="round"/>
<polygon class="rd" points="0,74 130,72 160,78 165,100 150,130 100,160 40,178 0,182"/>
<polygon class="rd" points="275,0 892,0 892,72 800,80 720,76 640,40 600,30 520,26 400,24 300,22 270,15"/>
<polygon class="pk" points="0,80 130,80 135,100 120,130 80,155 30,170 0,175"/>
<polygon class="pk" points="290,0 892,0 892,65 800,72 720,68 640,30 520,20 400,18 300,15"/>
<polygon class="lm" points="0,515 80,515 120,535 130,505 170,480 210,465 255,465 290,500 315,520 350,490 380,445 430,420 445,390 445,360 480,350 560,345 590,320 640,315 660,330 720,320 750,340 735,370 748,410 720,450 680,480 600,510 590,560 575,601 0,601"/>
<polygon class="lm" points="740,601 790,590 850,560 892,545 892,601"/>
<polygon class="gr" points="465,601 490,568 520,568 545,601"/>
<polygon class="gr" points="250,601 265,590 290,601"/>
<polygon class="yl" points="480,375 520,365 560,360 590,320 640,315 660,340 630,380 600,395 540,392 500,385"/>
<polygon class="og" points="550,375 575,345 600,320 640,320 655,340 625,375 600,385"/>
<polygon class="rd" points="590,340 610,322 640,325 650,342 625,365 600,360" stroke="#ff5500" stroke-width="6" stroke-linejoin="round"/>
</svg>

<svg x="611" y="345" width="158" height="128" viewBox="0 0 807 654" preserveAspectRatio="none" overflow="hidden">
<rect width="807" height="656" class="lm"/>
<polygon class="gr" points="0,75 25,100 30,140 0,150"/>
<polygon class="gr" points="185,95 215,50 225,0 265,0 270,30 310,10 345,30 350,70 345,110 300,125 265,155 240,120 200,110"/>
<polygon class="gr" points="375,30 400,0 480,0 485,50 465,100 430,80 390,60"/>
<polygon class="gr" points="495,20 510,0 650,0 560,15 515,50"/>
<polygon class="gr" points="98,190 128,160 160,185 170,200 140,235 118,230"/>
<polygon class="gr" points="183,200 205,182 215,200 210,245 190,230"/>
<polygon class="gr" points="305,265 380,262 400,225 415,210 440,255 430,330 415,360 380,350 305,345"/>
<polygon class="gr" points="0,345 40,330 50,310 75,320 78,380 60,400 20,420 0,425"/>
<polygon class="gr" points="565,340 570,320 610,305 625,250 640,200 655,185 665,230 680,275 690,220 700,205 720,230 745,290 760,300 797,290 797,400 740,390 700,400 650,395 620,380 580,370"/>
<polygon class="gr" points="300,490 340,440 360,410 420,395 470,375 445,425 480,450 490,490 430,480 385,490 360,530 375,590 400,640 300,648 270,600 290,540"/>
<polygon class="gr" points="640,470 690,440 700,410 740,395 797,400 797,470 760,450 720,475 690,520 690,570 710,610 740,640 797,648 620,648 615,590 630,520"/>
<polygon class="gr" points="60,400 85,380 150,370 190,375 185,420 150,430 80,430"/>
<polygon class="yl" points="0,450 50,445 80,460 90,490 65,540 50,600 30,640 0,645"/>
<polygon class="og" points="0,480 30,475 50,495 40,540 25,600 0,610"/>
<polygon class="bl" points="85,395 110,378 135,385 145,400 130,425 105,415" stroke="#00ffff" stroke-width="10" stroke-linejoin="round"/>
<polygon class="bl" points="85,395 110,378 135,385 145,400 130,425 105,415"/>
<polygon class="pu" points="100,395 115,385 135,392 130,415 112,408" stroke="#3300aa" stroke-width="4" stroke-linejoin="round"/>
<polygon class="yl" points="165,400 180,370 185,405"/>
<polygon class="cy" points="65,570 80,545 110,535 170,550 200,560 180,600 210,620 180,635 110,630 75,610"/>
<polygon class="bl" points="85,575 100,555 120,560 135,590 120,610 95,600"/>
<polygon class="bl" points="190,420 195,385 215,372 290,372 330,380 400,385 410,395 340,410 320,430 300,490 290,540 250,600 210,620 180,600 200,560 230,520 215,480 195,450" stroke="#00ffff" stroke-width="18" stroke-linejoin="round"/>
<polygon class="bl" points="190,420 195,385 215,372 290,372 330,380 400,385 410,395 340,410 320,430 300,490 290,540 250,600 210,620 180,600 200,560 230,520 215,480 195,450"/>
<polygon class="db" points="192,420 198,388 215,376 290,376 300,400 300,470 280,500 262,525 250,490 220,470 200,450"/>
<polygon class="ind" points="195,420 200,390 215,380 285,380 298,400 295,450 270,465 230,455 205,440"/>
<polygon class="pu" points="198,415 205,390 240,385 250,400 245,430 220,440 205,435"/>
<polygon class="pu" points="265,425 285,408 288,440"/>
<polygon class="db" points="318,392 338,385 352,395 338,405"/>
<polygon class="cy" points="445,425 470,375 480,395 500,420 540,385 600,365 625,345 665,345 670,365 620,390 600,420 540,450 520,480 490,490 480,450"/>
<polygon class="bl" points="510,425 545,390 570,378 600,382 608,395 570,410 540,435 515,460"/>
<polygon class="db" points="550,395 570,388 590,395 570,402"/>
<polygon class="yl" points="483,392 493,385 498,398"/>
<polygon class="yl" points="370,530 390,500 430,490 480,510 510,490 560,460 620,420 690,415 690,440 650,470 625,520 610,590 560,630 480,640 410,620 385,580" stroke="#7fff00" stroke-width="30" stroke-linejoin="round"/>
<polygon class="yl" points="370,530 390,500 430,490 480,510 510,490 560,460 620,420 690,415 690,440 650,470 625,520 610,590 560,630 480,640 410,620 385,580"/>
<polygon class="og" points="410,570 415,545 440,535 480,550 520,530 570,490 605,475 610,500 600,570 560,610 480,615 430,605"/>
<polygon class="cy" points="695,520 720,480 750,455 775,460 797,480 797,640 740,635 710,600 695,560"/>
<polygon class="bl" points="740,590 760,572 797,575 797,625 760,630"/>
</svg>

</g>
<g fill="#000">
<rect x="135" y="156" width="634" height="2"/>
<rect x="135" y="472" width="634" height="2"/>
<rect x="135" y="156" width="2" height="318"/>
<rect x="767" y="156" width="2" height="318"/>
<rect x="159" y="468" width="1" height="4" />
<rect x="159" y="158" width="1" height="4" />
<rect x="183" y="463" width="2" height="9" />
<rect x="183" y="158" width="2" height="9" />
<rect x="210" y="468" width="1" height="4" />
<rect x="210" y="158" width="1" height="4" />
<rect x="234" y="463" width="2" height="9" />
<rect x="234" y="158" width="2" height="9" />
<rect x="261" y="468" width="1" height="4" />
<rect x="261" y="158" width="1" height="4" />
<rect x="285" y="463" width="2" height="9" />
<rect x="285" y="158" width="2" height="9" />
<rect x="312" y="468" width="1" height="4" />
<rect x="312" y="158" width="1" height="4" />
<rect x="336" y="463" width="2" height="9" />
<rect x="336" y="158" width="2" height="9" />
<rect x="363" y="468" width="1" height="4" />
<rect x="363" y="158" width="1" height="4" />
<rect x="387" y="463" width="2" height="9" />
<rect x="387" y="158" width="2" height="9" />
<rect x="414" y="468" width="1" height="4" />
<rect x="414" y="158" width="1" height="4" />
<rect x="438" y="463" width="2" height="9" />
<rect x="438" y="158" width="2" height="9" />
<rect x="465" y="468" width="1" height="4" />
<rect x="465" y="158" width="1" height="4" />
<rect x="489" y="463" width="2" height="9" />
<rect x="489" y="158" width="2" height="9" />
<rect x="516" y="468" width="1" height="4" />
<rect x="516" y="158" width="1" height="4" />
<rect x="540" y="463" width="2" height="9" />
<rect x="540" y="158" width="2" height="9" />
<rect x="567" y="468" width="1" height="4" />
<rect x="567" y="158" width="1" height="4" />
<rect x="591" y="463" width="2" height="9" />
<rect x="591" y="158" width="2" height="9" />
<rect x="618" y="468" width="1" height="4" />
<rect x="618" y="158" width="1" height="4" />
<rect x="642" y="463" width="2" height="9" />
<rect x="642" y="158" width="2" height="9" />
<rect x="669" y="468" width="1" height="4" />
<rect x="669" y="158" width="1" height="4" />
<rect x="693" y="463" width="2" height="9" />
<rect x="693" y="158" width="2" height="9" />
<rect x="720" y="468" width="1" height="4" />
<rect x="720" y="158" width="1" height="4" />
<rect x="744" y="463" width="2" height="9" />
<rect x="744" y="158" width="2" height="9" />
<rect x="137" y="461" width="4" height="1" />
<rect x="763" y="461" width="4" height="1" />
<rect x="137" y="445" width="4" height="1" />
<rect x="763" y="445" width="4" height="1" />
<rect x="137" y="428" width="4" height="1" />
<rect x="763" y="428" width="4" height="1" />
<rect x="137" y="412" width="4" height="1" />
<rect x="763" y="412" width="4" height="1" />
<rect x="137" y="395" width="8" height="2" />
<rect x="759" y="395" width="8" height="2" />
<rect x="137" y="380" width="4" height="1" />
<rect x="763" y="380" width="4" height="1" />
<rect x="137" y="364" width="4" height="1" />
<rect x="763" y="364" width="4" height="1" />
<rect x="137" y="347" width="4" height="1" />
<rect x="763" y="347" width="4" height="1" />
<rect x="137" y="331" width="4" height="1" />
<rect x="763" y="331" width="4" height="1" />
<rect x="137" y="314" width="8" height="2" />
<rect x="759" y="314" width="8" height="2" />
<rect x="137" y="299" width="4" height="1" />
<rect x="763" y="299" width="4" height="1" />
<rect x="137" y="283" width="4" height="1" />
<rect x="763" y="283" width="4" height="1" />
<rect x="137" y="266" width="4" height="1" />
<rect x="763" y="266" width="4" height="1" />
<rect x="137" y="250" width="4" height="1" />
<rect x="763" y="250" width="4" height="1" />
<rect x="137" y="233" width="8" height="2" />
<rect x="759" y="233" width="8" height="2" />
<rect x="137" y="218" width="4" height="1" />
<rect x="763" y="218" width="4" height="1" />
<rect x="137" y="202" width="4" height="1" />
<rect x="763" y="202" width="4" height="1" />
<rect x="137" y="185" width="4" height="1" />
<rect x="763" y="185" width="4" height="1" />
<rect x="137" y="169" width="4" height="1" />
<rect x="763" y="169" width="4" height="1" />
</g>
<g shape-rendering="auto" id="txt">
<g class="thin" filter="url(#fb)">
<text y="112" font-size="27.3" x="223.8 242.7 260.4 271.4 287.9 305.8 317.2 322.5 342 363.9 374.2 390.4 418.1 436.3 454.1 463.6 482.9 493.6 511.2 522.5 555 571.4 588.8 603.3 610 628.4 639.2 646.4 664.4">potentialtemperaturedeviation</text>
<text x="376.9" y="546.7" font-size="22.3" textLength="16" lengthAdjust="spacingAndGlyphs">X</text><text x="404.8" y="546.7" font-size="22.3" textLength="123.5" lengthAdjust="spacing">coordinate</text>
<g transform="translate(92.3,389.9) rotate(-90) scale(1,1.16)"><text x="-0.6" y="0" font-size="22.3" textLength="16" lengthAdjust="spacingAndGlyphs">Z</text><text x="27.6" y="0" font-size="22.3" textLength="121.5" lengthAdjust="spacing">coordinate</text></g>
</g>
<g class="thin" filter="url(#ft)">
<text class="nt" x="776.6" y="168.7" font-size="16.3" textLength="101.5" lengthAdjust="spacingAndGlyphs">t=446400 s</text>
</g>
<g filter="url(#fs)">
<text x="46.4" y="134.2" class="tl" textLength="99.5" lengthAdjust="spacingAndGlyphs">(×1000 m)</text>
<text x="683.9" y="517.7" class="tl" textLength="99.5" lengthAdjust="spacingAndGlyphs">(×1000 m)</text>
<text x="178.6" y="495.3" class="tl" textLength="11.5" lengthAdjust="spacingAndGlyphs">4</text>
<text x="229.6" y="495.3" class="tl" textLength="11.5" lengthAdjust="spacingAndGlyphs">8</text>
<text x="275.4" y="495.3" class="tl" textLength="21.8" lengthAdjust="spacingAndGlyphs">12</text>
<text x="326.4" y="495.3" class="tl" textLength="21.8" lengthAdjust="spacingAndGlyphs">16</text>
<text x="377.4" y="495.3" class="tl" textLength="21.8" lengthAdjust="spacingAndGlyphs">20</text>
<text x="428.4" y="495.3" class="tl" textLength="21.8" lengthAdjust="spacingAndGlyphs">24</text>
<text x="479.4" y="495.3" class="tl" textLength="21.8" lengthAdjust="spacingAndGlyphs">28</text>
<text x="530.4" y="495.3" class="tl" textLength="21.8" lengthAdjust="spacingAndGlyphs">32</text>
<text x="581.4" y="495.3" class="tl" textLength="21.8" lengthAdjust="spacingAndGlyphs">36</text>
<text x="632.4" y="495.3" class="tl" textLength="21.8" lengthAdjust="spacingAndGlyphs">40</text>
<text x="683.4" y="495.3" class="tl" textLength="21.8" lengthAdjust="spacingAndGlyphs">44</text>
<text x="734.4" y="495.3" class="tl" textLength="21.8" lengthAdjust="spacingAndGlyphs">48</text>
<text x="115.1" y="401.8" class="tl" textLength="11.5" lengthAdjust="spacingAndGlyphs">5</text>
<text x="104.8" y="320.8" class="tl" textLength="21.8" lengthAdjust="spacingAndGlyphs">10</text>
<text x="104.8" y="239.8" class="tl" textLength="21.8" lengthAdjust="spacingAndGlyphs">15</text>
<text x="810" y="275.3" class="tl" font-size="14.6" textLength="37" lengthAdjust="spacingAndGlyphs">0.32</text>
<text x="810" y="320.6" class="tl" font-size="14.6" textLength="37" lengthAdjust="spacingAndGlyphs">0.16</text>
<text x="810" y="366.0" class="tl" font-size="14.6" textLength="10.3" lengthAdjust="spacingAndGlyphs">0</text>
<text x="810" y="411.4" class="tl" font-size="14.6" textLength="49.6" lengthAdjust="spacingAndGlyphs">−0.16</text>
<text x="810" y="456.6" class="tl" font-size="14.6" textLength="49.6" lengthAdjust="spacingAndGlyphs">−0.32</text>
</g>
</g>
<!-- colorbar -->
<g>
<rect x="784" y="246.7" width="18" height="22.6" class="rd"/>
<rect x="784" y="269.3" width="18" height="22.3" class="orr"/>
<rect x="784" y="291.6" width="18" height="23.0" class="og"/>
<rect x="784" y="314.6" width="18" height="22.8" class="yl"/>
<rect x="784" y="337.4" width="18" height="22.6" class="lm"/>
<rect x="784" y="360" width="18" height="23.0" class="gr"/>
<rect x="784" y="383" width="18" height="22.4" class="cy"/>
<rect x="784" y="405.4" width="18" height="22.4" class="bl"/>
<rect x="784" y="427.8" width="18" height="22.8" class="db"/>
<rect x="784" y="450.6" width="18" height="22.6" class="ind"/>
<rect x="783" y="245.7" width="20" height="2" fill="#000"/>
<rect x="783" y="268.3" width="20" height="2" fill="#000"/>
<rect x="783" y="290.6" width="20" height="2" fill="#000"/>
<rect x="783" y="313.6" width="20" height="2" fill="#000"/>
<rect x="783" y="336.4" width="20" height="2" fill="#000"/>
<rect x="783" y="359.0" width="20" height="2" fill="#000"/>
<rect x="783" y="382.0" width="20" height="2" fill="#000"/>
<rect x="783" y="404.4" width="20" height="2" fill="#000"/>
<rect x="783" y="426.8" width="20" height="2" fill="#000"/>
<rect x="783" y="449.6" width="20" height="2" fill="#000"/>
<rect x="783" y="472.2" width="20" height="2" fill="#000"/>
<rect x="783" y="246" width="2" height="228" fill="#000"/>
<rect x="801" y="246" width="2" height="228" fill="#000"/>
<polygon points="783,247 793.4,205.8 803,247" fill="#000" shape-rendering="auto"/>
<polygon points="785,246.2 793.4,212.8 801,246.2" class="pk" shape-rendering="auto"/>
<polygon points="783,473 793.4,514.6 803,473" fill="#000" shape-rendering="auto"/>
<polygon points="785,473.8 793.4,507.6 801,473.8" class="pu" shape-rendering="auto"/>
</g>
</svg>
</body></html>
